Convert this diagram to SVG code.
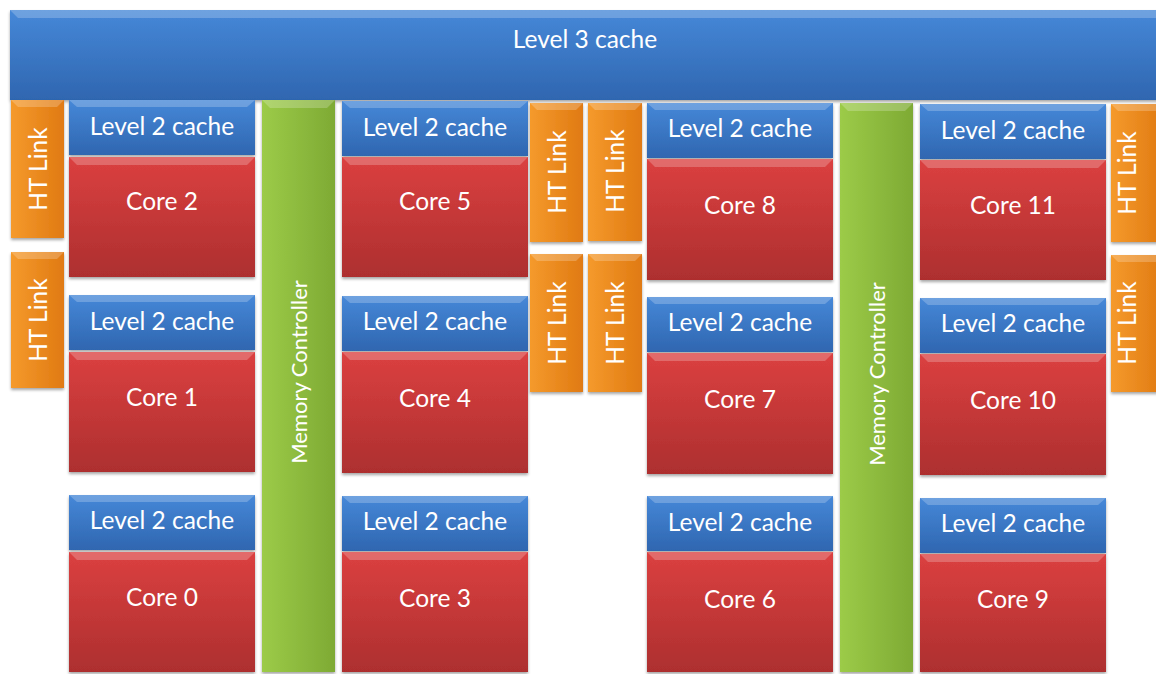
<svg xmlns="http://www.w3.org/2000/svg" width="1156" height="674" viewBox="0 0 1156 674">
<defs>
<linearGradient id="gBlue" x1="0" y1="0" x2="0" y2="1"><stop offset="0" stop-color="#4688d8"/><stop offset="1" stop-color="#2f66b0"/></linearGradient>
<linearGradient id="gRed" x1="0" y1="0" x2="0" y2="1"><stop offset="0" stop-color="#db4040"/><stop offset="1" stop-color="#ad2f2f"/></linearGradient>
<linearGradient id="gOrange" x1="0" y1="0" x2="1" y2="0"><stop offset="0" stop-color="#f59a2c"/><stop offset="1" stop-color="#e07a12"/></linearGradient>
<linearGradient id="gGreen" x1="0" y1="0" x2="1" y2="0"><stop offset="0" stop-color="#9ccb48"/><stop offset="1" stop-color="#7eaa34"/></linearGradient>
<filter id="sh" x="-10%" y="-10%" width="120%" height="120%"><feDropShadow dx="0" dy="2" stdDeviation="1.5" flood-color="#000" flood-opacity="0.35"/></filter>
</defs>
<style>
.blue{fill:url(#gBlue)}
.red{fill:url(#gRed)}
.orange{fill:url(#gOrange)}
.green{fill:url(#gGreen)}
.box{filter:url(#sh)}
.bev{fill:#ffffff;opacity:0.22}
text{font-family:Lato,"Open Sans","Liberation Sans",sans-serif;font-size:24.5px;fill:#ffffff;text-anchor:middle}
text.mc{font-size:22px}
</style>
<rect width="1156" height="674" fill="#ffffff"/>

<g id="l3">
<rect class="box blue" x="10" y="10" width="1160" height="90"/>
<polygon class="bev" points="10,10 1170,10 1162,18 18,18"/>
<text x="585" y="48">Level 3 cache</text>
</g>

<!-- Column 1 -->
<g id="l2c2"><rect class="box blue" x="69" y="100" width="186" height="55"/><polygon class="bev" points="69,100 255,100 247,107 77,107"/><text x="162" y="135">Level 2 cache</text></g>
<g id="core2"><rect class="box red" x="69" y="157" width="186" height="120"/><polygon class="bev" points="69,157 255,157 247,165 77,165"/><text x="162" y="210">Core 2</text></g>
<g id="l2c1"><rect class="box blue" x="69" y="295" width="186" height="55"/><polygon class="bev" points="69,295 255,295 247,302 77,302"/><text x="162" y="330">Level 2 cache</text></g>
<g id="core1"><rect class="box red" x="69" y="352" width="186" height="120"/><polygon class="bev" points="69,352 255,352 247,360 77,360"/><text x="162" y="406">Core 1</text></g>
<g id="l2c0"><rect class="box blue" x="69" y="495" width="186" height="55"/><polygon class="bev" points="69,495 255,495 247,502 77,502"/><text x="162" y="529">Level 2 cache</text></g>
<g id="core0"><rect class="box red" x="69" y="552" width="186" height="120"/><polygon class="bev" points="69,552 255,552 247,560 77,560"/><text x="162" y="606">Core 0</text></g>

<!-- Column 2 -->
<g id="l2c5"><rect class="box blue" x="342" y="101" width="186" height="55"/><polygon class="bev" points="342,101 528,101 520,108 350,108"/><text x="435" y="136">Level 2 cache</text></g>
<g id="core5"><rect class="box red" x="342" y="157" width="186" height="120"/><polygon class="bev" points="342,157 528,157 520,165 350,165"/><text x="435" y="210">Core 5</text></g>
<g id="l2c4"><rect class="box blue" x="342" y="296" width="186" height="55"/><polygon class="bev" points="342,296 528,296 520,303 350,303"/><text x="435" y="330">Level 2 cache</text></g>
<g id="core4"><rect class="box red" x="342" y="352" width="186" height="121"/><polygon class="bev" points="342,352 528,352 520,360 350,360"/><text x="435" y="407">Core 4</text></g>
<g id="l2c3"><rect class="box blue" x="342" y="496" width="186" height="55"/><polygon class="bev" points="342,496 528,496 520,503 350,503"/><text x="435" y="530">Level 2 cache</text></g>
<g id="core3"><rect class="box red" x="342" y="552" width="186" height="120"/><polygon class="bev" points="342,552 528,552 520,560 350,560"/><text x="435" y="607">Core 3</text></g>

<!-- Column 3 -->
<g id="l2c8"><rect class="box blue" x="647" y="103" width="186" height="55"/><polygon class="bev" points="647,103 833,103 825,110 655,110"/><text x="740" y="137">Level 2 cache</text></g>
<g id="core8"><rect class="box red" x="647" y="159" width="186" height="121"/><polygon class="bev" points="647,159 833,159 825,167 655,167"/><text x="740" y="214">Core 8</text></g>
<g id="l2c7"><rect class="box blue" x="647" y="297" width="186" height="55"/><polygon class="bev" points="647,297 833,297 825,304 655,304"/><text x="740" y="331">Level 2 cache</text></g>
<g id="core7"><rect class="box red" x="647" y="353" width="186" height="121"/><polygon class="bev" points="647,353 833,353 825,361 655,361"/><text x="740" y="408">Core 7</text></g>
<g id="l2c6"><rect class="box blue" x="647" y="496" width="186" height="55"/><polygon class="bev" points="647,496 833,496 825,503 655,503"/><text x="740" y="531">Level 2 cache</text></g>
<g id="core6"><rect class="box red" x="647" y="552" width="186" height="120"/><polygon class="bev" points="647,552 833,552 825,560 655,560"/><text x="740" y="608">Core 6</text></g>

<!-- Column 4 -->
<g id="l2c11"><rect class="box blue" x="920" y="104" width="186" height="55"/><polygon class="bev" points="920,104 1106,104 1098,111 928,111"/><text x="1013" y="139">Level 2 cache</text></g>
<g id="core11"><rect class="box red" x="920" y="160" width="186" height="120"/><polygon class="bev" points="920,160 1106,160 1098,168 928,168"/><text x="1013" y="214">Core 11</text></g>
<g id="l2c10"><rect class="box blue" x="920" y="298" width="186" height="55"/><polygon class="bev" points="920,298 1106,298 1098,305 928,305"/><text x="1013" y="332">Level 2 cache</text></g>
<g id="core10"><rect class="box red" x="920" y="354" width="186" height="121"/><polygon class="bev" points="920,354 1106,354 1098,362 928,362"/><text x="1013" y="409">Core 10</text></g>
<g id="l2c9"><rect class="box blue" x="920" y="498" width="186" height="55"/><polygon class="bev" points="920,498 1106,498 1098,505 928,505"/><text x="1013" y="532">Level 2 cache</text></g>
<g id="core9"><rect class="box red" x="920" y="554" width="186" height="118"/><polygon class="bev" points="920,554 1106,554 1098,562 928,562"/><text x="1013" y="608">Core 9</text></g>

<!-- Memory controllers -->
<g id="mc1"><rect class="box green" x="262" y="100" width="73" height="572"/><polygon class="bev" points="262,100 335,100 327,108 270,108"/><text class="mc" transform="translate(298.5,372) rotate(-90)" y="8">Memory Controller</text></g>
<g id="mc2"><rect class="box green" x="840" y="103" width="73" height="569"/><polygon class="bev" points="840,103 913,103 905,111 848,111"/><text class="mc" transform="translate(876.5,374) rotate(-90)" y="8">Memory Controller</text></g>

<!-- HT links -->
<g id="ht1"><rect class="box orange" x="11" y="100" width="53" height="138"/><polygon class="bev" points="11,100 64,100 57,107 18,107"/><text transform="translate(37.5,169) rotate(-90)" y="9">HT Link</text></g>
<g id="ht2"><rect class="box orange" x="11" y="252" width="53" height="136"/><polygon class="bev" points="11,252 64,252 57,259 18,259"/><text transform="translate(37.5,320) rotate(-90)" y="9">HT Link</text></g>
<g id="ht3"><rect class="box orange" x="530" y="103" width="53" height="139"/><polygon class="bev" points="530,103 583,103 576,110 537,110"/><text transform="translate(556.5,172) rotate(-90)" y="9">HT Link</text></g>
<g id="ht4"><rect class="box orange" x="588" y="103" width="54" height="138"/><polygon class="bev" points="588,103 642,103 635,110 595,110"/><text transform="translate(615,171) rotate(-90)" y="9">HT Link</text></g>
<g id="ht5"><rect class="box orange" x="530" y="254" width="53" height="138"/><polygon class="bev" points="530,254 583,254 576,261 537,261"/><text transform="translate(556.5,323) rotate(-90)" y="9">HT Link</text></g>
<g id="ht6"><rect class="box orange" x="588" y="254" width="54" height="138"/><polygon class="bev" points="588,254 642,254 635,261 595,261"/><text transform="translate(615,323) rotate(-90)" y="9">HT Link</text></g>
<g id="ht7"><rect class="box orange" x="1111" y="104" width="52" height="138"/><polygon class="bev" points="1111,104 1163,104 1156,111 1118,111"/><text transform="translate(1127,173) rotate(-90)" y="9">HT Link</text></g>
<g id="ht8"><rect class="box orange" x="1111" y="255" width="52" height="137"/><polygon class="bev" points="1111,255 1163,255 1156,262 1118,262"/><text transform="translate(1127,323) rotate(-90)" y="9">HT Link</text></g>

<g id="connectors"></g>
</svg>
